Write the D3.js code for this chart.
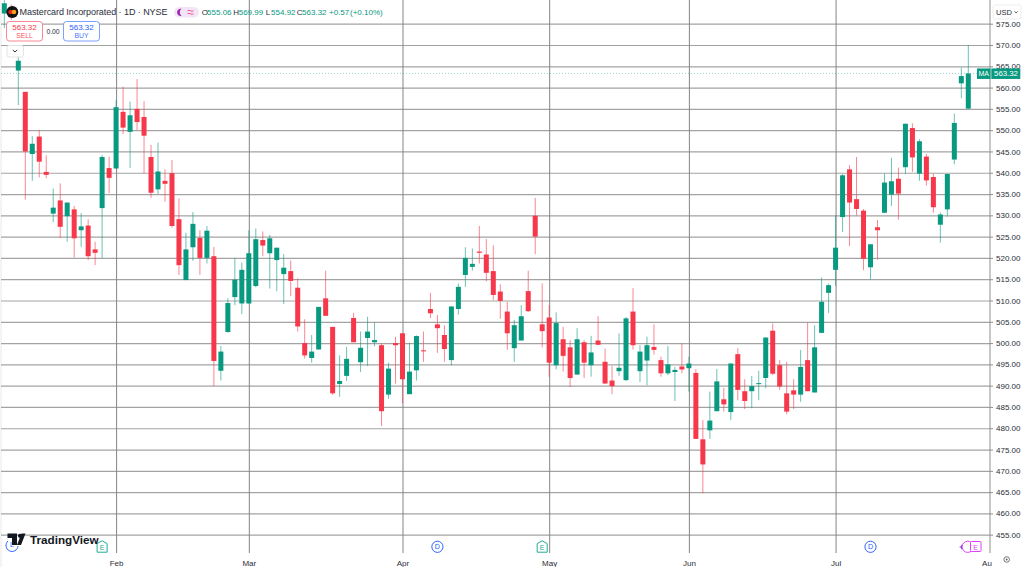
<!DOCTYPE html>
<html>
<head>
<meta charset="utf-8">
<style>
    html, body { margin: 0; padding: 0; background: #fff; }
    svg { display: block; }
    text { font-family: "Liberation Sans", Arial, sans-serif; }
    .grid-h line { stroke: #a3a3a3; stroke-width: 1.2px; }
    .grid-v line { stroke: #858585; stroke-width: 1px; }
    .axis path, .grid-h path, .grid-v path { display: none; }
    .axis text { fill: #2a2e39; font-size: 8px; }
</style>
</head>
<body>
<svg width="1024" height="567"></svg>
<script src="https://d3js.org/d3.v7.min.js"></script>
<script>

    // one entry per daily candle, the first two sit under the legend
    var opens = [577.4,578,
        564.0,559.0,544.4,548.5,540.2,530.4,533.5,529.8,531.4,526.5,
        527.6,522.0,531.7,541.1,541.0,554.3,549.6,555.0,553.1,543.7,
        536.1,538.1,539.9,529.1,514.8,522.5,524.7,520.0,520.4,493.5,
        502.6,510.8,509.3,509.3,513.4,524.2,521.1,519.5,516.2,516.9,
        513.0,500.0,496.5,498.5,510.5,503.8,490.4,492.3,505.9,495.5,
        501.2,500.2,499.5,487.9,500.0,502.3,488.0,493.6,498.3,508.0,
        504.4,501.9,496.0,508.0,516.0,517.9,521.5,520.8,516.9,512.1,
        507.4,498.8,500.6,512.2,529.9,504.4,506.0,494.8,500.9,499.0,
        492.6,500.2,494.8,500.6,495.6,491.2,493.4,491.3,507.4,493.4,
        495.9,499.1,496.0,492.9,493.2,494.5,494.1,493.0,477.4,479.5,
        484.0,486.8,483.8,497.4,488.7,488.7,490.4,491.8,502.9,494.8,
        488.2,488.9,487.9,496.0,488.4,502.4,511.8,517.2,529.6,540.8,
        533.8,531.1,517.8,527.2,530.6,534.9,538.6,541.3,550.5,539.8,
        543.8,539.0,527.8,531.4,543.1,561.0,555.06];

    var highs = [580.6,579.5,
        567.3,559.0,548.6,550.0,544.1,536.3,537.5,533.0,532.2,530.5,
        529.1,523.8,544.2,543.8,557.1,560.2,556.7,562.0,556.8,546.5,
        547.1,540.8,543.0,534.0,525.9,530.8,526.5,527.5,522.6,499.3,
        510.5,520.0,518.9,526.5,526.9,526.2,525.4,522.4,520.9,519.4,
        515.2,505.6,501.9,508.5,517.0,503.8,497.1,499.1,507.1,502.7,
        506.2,504.9,499.9,495.4,501.5,502.3,500.1,501.8,502.7,511.8,
        506.6,504.2,508.6,514.0,522.5,522.2,527.5,524.4,523.0,513.8,
        509.7,505.4,508.9,517.0,534.1,514.0,508.9,507.2,503.8,500.7,
        503.5,500.7,501.7,506.3,498.7,494.6,502.3,506.2,512.9,499.5,
        501.5,504.4,496.8,499.3,494.4,499.9,496.8,493.9,481.9,488.6,
        493.9,489.5,495.2,498.8,491.5,492.3,493.5,501.3,504.6,496.0,
        495.6,491.5,498.4,504.8,504.2,515.4,514.0,530.0,539.7,541.8,
        543.7,531.5,523.2,528.9,539.8,543.5,541.2,551.6,551.6,547.9,
        544.4,539.8,530.7,539.7,553.9,564.7,569.99];

    var lows = [574,575.9,
        555.9,533.7,538.1,538.9,538.7,528.4,524.7,523.8,520.1,522.6,
        519.5,518.3,520.0,535.2,541.0,549.1,541.1,550.0,539.9,534.1,
        535.0,533.2,527.1,516.0,514.8,519.3,516.0,518.7,489.9,491.2,
        502.4,508.9,506.8,509.3,513.1,520.4,512.8,512.2,509.2,511.0,
        502.7,496.4,495.4,498.5,506.4,487.8,487.4,491.1,500.2,493.2,
        494.6,499.2,480.5,486.9,490.5,485.8,488.0,491.2,495.6,505.9,
        497.7,495.6,494.8,506.7,513.2,517.0,518.7,514.5,510.1,505.7,
        498.4,495.6,500.6,507.3,520.9,499.0,492.1,493.8,493.3,489.7,
        492.6,491.8,492.1,499.6,490.4,488.0,492.3,491.1,498.5,490.9,
        490.1,497.3,492.1,492.5,486.4,492.9,488.6,477.5,464.7,477.5,
        484.0,483.9,481.9,486.6,484.5,484.7,486.6,489.4,492.5,489.0,
        483.3,484.5,486.2,488.7,488.4,502.4,507.1,513.4,526.1,522.8,
        530.0,517.1,514.9,519.6,530.6,532.2,529.0,539.7,540.2,538.1,
        537.0,530.6,523.6,529.7,542.0,557.5,554.92];

    var closes = [579.8,576.5,
        566.3,545.0,546.8,542.6,539.5,531.8,527.3,533.0,524.6,527.4,
        520.4,521.2,543.7,538.8,555.4,550.6,553.5,551.9,548.7,535.3,
        540.3,537.4,527.5,518.3,522.0,528.0,520.0,526.4,495.8,498.0,
        509.4,514.9,517.2,521.1,524.4,522.9,524.6,522.4,517.7,514.6,
        503.9,497.1,498.0,508.5,506.4,488.2,491.1,496.3,500.2,498.9,
        502.7,500.7,484.0,494.0,499.5,491.5,493.3,501.65,498.05,507.0,
        503.5,498.6,508.6,513.2,520.0,518.6,521.2,516.5,511.3,509.9,
        502.3,504.2,506.3,507.5,525.0,502.8,495.4,504.7,497.0,491.8,
        500.9,495.4,497.8,499.6,490.5,489.9,494.2,505.8,499.5,498.0,
        499.5,498.4,492.9,495.0,493.7,493.8,495.2,477.5,471.5,481.8,
        491.0,485.6,495.2,489.0,486.4,489.9,490.6,501.3,492.8,489.8,
        483.9,487.9,494.4,488.7,499.0,509.7,513.6,522.4,539.4,533.0,
        531.5,519.8,523.2,526.5,537.7,538.0,535.1,551.5,543.6,547.4,
        538.2,531.9,530.2,539.7,551.7,562.7,563.32];

    var priceTicks = d3.range(455, 576, 5);
    var monthIndex = [16, 35, 57, 78, 98, 119];
    var monthLabels = ["Feb", "Mar", "Apr", "May", "Jun", "Jul"];
    var lastPrice = 563.32;

    // legend row: O H L C values and change
    var ohlcLetters = ["O", "H", "L", "C"];
    var ohlcValues = ["555.06", "569.99", "554.92", "563.32"];
    var ohlcX = [201.7, 233.3, 265.7, 296.7];

    // earnings / dividend markers along the bottom, by candle index
    var dividendIndex = [62, 124];
    var earningsIndex = [14, 77];

    var green = "#089981", red = "#f7374a";

    var svg = d3.select("svg"),
        chartRight = 990,
        chartBottom = 553;

    var x = d3.scaleLinear().domain([0, 138]).range([4.33, 968.3]);
    var y = d3.scaleLinear().domain([570, 455]).range([45, 534.7]);

    // left frame edge
    svg.append("line").attr("x1", 1).attr("x2", 1).attr("y1", 0).attr("y2", 567)
        .attr("stroke", "#e8e8e8");

    svg.append("g")
        .attr("class", "grid-h")
        .attr("transform", "translate(" + chartRight + ",0)")
        .call(d3.axisLeft(y).tickValues(priceTicks).tickSize(chartRight - 1).tickFormat(""));

    svg.append("g")
        .attr("class", "grid-v")
        .attr("transform", "translate(0," + chartBottom + ")")
        .call(d3.axisBottom(x).tickValues(monthIndex).tickSize(-chartBottom).tickFormat(""));

    // price scale border
    svg.append("line").attr("x1", chartRight).attr("x2", chartRight).attr("y1", 0).attr("y2", chartBottom)
        .attr("stroke", "#8e8e8e").attr("stroke-width", 1);

    // last price dotted line
    svg.append("line")
        .attr("x1", 1).attr("x2", chartRight)
        .attr("y1", y(lastPrice)).attr("y2", y(lastPrice))
        .attr("stroke", green).attr("stroke-opacity", 0.4)
        .attr("stroke-dasharray", "1 2");

    var candles = svg.append("g").selectAll("g")
        .data(opens)
        .enter().append("g");

    function candleColor(i) {
        return closes[i] >= opens[i] ? green : red;
    }

    candles.append("line")
        .attr("x1", function (d, i) { return x(i); })
        .attr("x2", function (d, i) { return x(i); })
        .attr("y1", function (d, i) { return y(highs[i]); })
        .attr("y2", function (d, i) { return y(lows[i]); })
        .attr("stroke", function (d, i) { return candleColor(i); })
        .attr("stroke-width", 1)
        .attr("stroke-opacity", 0.6);

    candles.append("rect")
        .attr("x", function (d, i) { return x(i) - 2.5; })
        .attr("width", 5)
        .attr("y", function (d, i) { return y(Math.max(opens[i], closes[i])); })
        .attr("height", function (d, i) { return Math.max(1, Math.abs(y(opens[i]) - y(closes[i]))); })
        .attr("fill", function (d, i) { return candleColor(i); });

    // price axis
    var yAxis = svg.append("g")
        .attr("class", "axis")
        .attr("transform", "translate(" + chartRight + ",0)")
        .call(d3.axisRight(y).tickValues(priceTicks).tickSize(3).tickPadding(3).tickFormat(d3.format(".2f")));
    yAxis.selectAll("line").attr("stroke", "#8e8e8e");
    yAxis.selectAll("text").attr("x", 6);

    // time axis
    var xAxis = svg.append("g")
        .attr("class", "axis")
        .attr("transform", "translate(0," + chartBottom + ")")
        .call(d3.axisBottom(x).tickValues(monthIndex).tickSize(0).tickPadding(7.5)
            .tickFormat(function (d, i) { return monthLabels[i]; }));
    svg.append("text").attr("x", 987).attr("y", 566).attr("text-anchor", "middle")
        .attr("font-size", 8).attr("fill", "#2a2e39").text("Au");

    // last price tag
    svg.append("rect").attr("x", 977).attr("y", y(lastPrice) - 5).attr("width", 13.5).attr("height", 10.5).attr("fill", green);
    svg.append("rect").attr("x", 991.3).attr("y", y(lastPrice) - 5).attr("width", 29).attr("height", 10.5).attr("fill", green);
    svg.append("text").attr("x", 983.7).attr("y", y(lastPrice) + 3).attr("text-anchor", "middle")
        .attr("font-size", 7).attr("fill", "#fff").text("MA");
    svg.append("text").attr("x", 1006).attr("y", y(lastPrice) + 3).attr("text-anchor", "middle")
        .attr("font-size", 7.8).attr("fill", "#fff").text(d3.format(".2f")(lastPrice));

    // USD button
    svg.append("rect").attr("x", 993).attr("y", 5).attr("width", 28).attr("height", 14).attr("rx", 2)
        .attr("fill", "#fff").attr("stroke", "#eeeeee");
    svg.append("text").attr("x", 996).attr("y", 14.8).attr("font-size", 7.6).attr("fill", "#2a2e39").text("USD");
    svg.append("path").attr("d", "M1014.5 11.5 l1.6 1.4 l1.6 -1.4").attr("fill", "none").attr("stroke", "#2a2e39").attr("stroke-width", 0.8);

    // legend: logo + title
    svg.append("circle").attr("cx", 12.3).attr("cy", 12).attr("r", 6).attr("fill", "#111");
    svg.append("circle").attr("cx", 10.6).attr("cy", 12).attr("r", 2.3).attr("fill", "#e2231a");
    svg.append("circle").attr("cx", 14).attr("cy", 12).attr("r", 2.3).attr("fill", "#f79e1b");
    svg.append("text").attr("x", 19.5).attr("y", 15.3).attr("font-size", 9).attr("fill", "#2a2e39")
        .attr("textLength", 148).attr("lengthAdjust", "spacing")
        .text("Mastercard Incorporated · 1D · NYSE");

    // market closed / data pill
    svg.append("rect").attr("x", 174).attr("y", 7).attr("width", 25).attr("height", 10.5).attr("rx", 5.2).attr("fill", "#f3e5f7");
    svg.append("path").attr("d", "M181.5 8.8 a3.6 3.6 0 1 0 0 7 a4.4 4.4 0 0 1 0 -7 z").attr("fill", "#9c27b0");
    svg.append("path").attr("d", "M187.5 10.8 q1.5 -1 3 0 t3 0 M187.5 13.8 q1.5 -1 3 0 t3 0")
        .attr("fill", "none").attr("stroke", "#e5487a").attr("stroke-width", 0.9);

    svg.selectAll(".ohlc-letter").data(ohlcLetters).enter().append("text")
        .attr("class", "ohlc-letter")
        .attr("x", function (d, i) { return ohlcX[i]; })
        .attr("y", 15).attr("font-size", 8).attr("fill", "#2a2e39")
        .text(function (d) { return d; });
    svg.selectAll(".ohlc-value").data(ohlcValues).enter().append("text")
        .attr("class", "ohlc-value")
        .attr("x", function (d, i) { return ohlcX[i] + 5.4; })
        .attr("y", 15).attr("font-size", 8).attr("fill", green)
        .text(function (d) { return d; });
    svg.append("text").attr("x", 329).attr("y", 15).attr("font-size", 8).attr("fill", green).text("+0.57");
    svg.append("text").attr("x", 350).attr("y", 15).attr("font-size", 8).attr("fill", green).text("(+0.10%)");

    // sell / buy boxes
    function tradeBox(bx, color, label) {
        svg.append("rect").attr("x", bx).attr("y", 21.5).attr("width", 36).attr("height", 19.5).attr("rx", 3)
            .attr("fill", "#fff").attr("stroke", color).attr("stroke-opacity", 0.6);
        svg.append("text").attr("x", bx + 18).attr("y", 30).attr("text-anchor", "middle")
            .attr("font-size", 8).attr("fill", color).text(d3.format(".2f")(lastPrice));
        svg.append("text").attr("x", bx + 18).attr("y", 38.2).attr("text-anchor", "middle")
            .attr("font-size", 6.8).attr("fill", color).attr("fill-opacity", 0.9).text(label);
    }
    tradeBox(6.5, red, "SELL");
    tradeBox(63.5, "#2962ff", "BUY");
    svg.append("text").attr("x", 53).attr("y", 33.5).attr("text-anchor", "middle")
        .attr("font-size", 6.8).attr("fill", "#2a2e39").text("0.00");

    // collapse button
    svg.append("rect").attr("x", 7).attr("y", 45.5).attr("width", 16.5).attr("height", 11.5).attr("rx", 2)
        .attr("fill", "#fff").attr("stroke", "#e4e4e4");
    svg.append("path").attr("d", "M12.8 50 l2.2 2 l2.2 -2").attr("fill", "none").attr("stroke", "#333").attr("stroke-width", 1);

    // bottom event markers
    var iconY = 546.8, blue = "#2962ff", teal = "#22ab94", pink = "#e040fb";

    svg.append("g").selectAll("g").data(dividendIndex).enter().append("g")
        .each(function (d) {
            var g = d3.select(this);
            g.append("circle").attr("cx", x(d)).attr("cy", iconY).attr("r", 5.6)
                .attr("fill", "#fff").attr("stroke", blue).attr("stroke-width", 1);
            g.append("text").attr("x", x(d)).attr("y", iconY + 2.6).attr("text-anchor", "middle")
                .attr("font-size", 7.2).attr("fill", blue).text("D");
        });

    function earningsIcon(ex, color) {
        svg.append("path")
            .attr("d", "M" + (ex - 5) + " " + (iconY + 5.4) + " v-8.6 l5 -2.8 l5 2.8 v8.6 z")
            .attr("fill", "#fff").attr("stroke", color).attr("stroke-width", 1);
        svg.append("text").attr("x", ex).attr("y", iconY + 3.4).attr("text-anchor", "middle")
            .attr("font-size", 7).attr("fill", color).text("E");
    }
    earningsIndex.forEach(function (d) { earningsIcon(x(d), teal); });

    // split marker on the left, half under the logo
    svg.append("path").attr("d", "M8 541 a6 6 0 1 0 10 5").attr("fill", "none").attr("stroke", blue).attr("stroke-width", 1);
    svg.append("text").attr("x", 12).attr("y", 547).attr("text-anchor", "middle")
        .attr("font-size", 7.2).attr("fill", blue).text("L");

    // right hand upcoming markers
    svg.append("path").attr("d", "M961.7 544.2 l0.8 2 l2 0.8 l-2 0.8 l-0.8 2 l-0.8 -2 l-2 -0.8 l2 -0.8 z").attr("fill", "#7b3fe4");
    svg.append("circle").attr("cx", 967.7).attr("cy", iconY).attr("r", 5.6)
        .attr("fill", "#fff").attr("stroke", pink).attr("stroke-width", 1);
    svg.append("rect").attr("x", 970.5).attr("y", 541.5).attr("width", 10.5).attr("height", 10)
        .attr("rx", 1).attr("fill", "#fff").attr("stroke", pink);
    svg.append("text").attr("x", 975.7).attr("y", 549.5).attr("text-anchor", "middle")
        .attr("font-size", 7).attr("fill", pink).text("E");

    // TradingView logo
    svg.append("path").attr("d", "M7.5 533.5 h9.5 v11.5 h-5 v-7 h-4.5 z").attr("fill", "#131722");
    svg.append("circle").attr("cx", 20).attr("cy", 535.8).attr("r", 2.1).attr("fill", "#131722");
    svg.append("path").attr("d", "M21.5 533.5 h4 l-4.5 11.5 h-4 z").attr("fill", "#131722");
    svg.append("text").attr("x", 30).attr("y", 543.5).attr("font-size", 11.7).attr("font-weight", 700)
        .attr("fill", "#131722").text("TradingView");

    // settings button in the corner
    svg.append("circle").attr("cx", 1006.7).attr("cy", 559.5).attr("r", 2.8)
        .attr("fill", "none").attr("stroke", "#555").attr("stroke-width", 0.8);
    svg.append("circle").attr("cx", 1006.7).attr("cy", 559.5).attr("r", 0.9).attr("fill", "#555");

</script>
</body>
</html>
